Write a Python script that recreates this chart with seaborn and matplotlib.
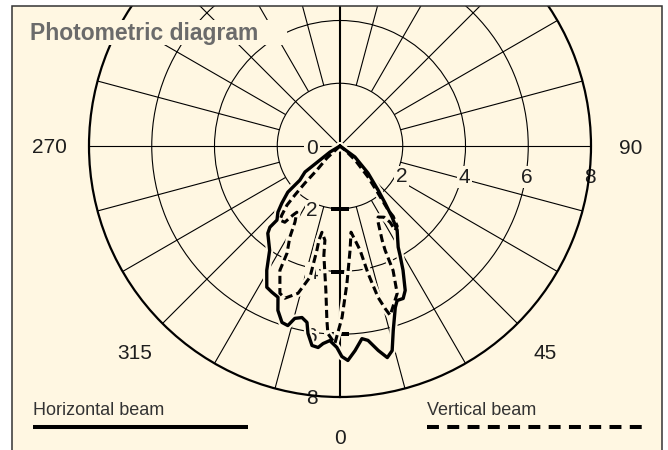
import numpy as np
import pandas as pd
import matplotlib
matplotlib.use("Agg")
import matplotlib.pyplot as plt
import seaborn as sns
from matplotlib.patches import Rectangle
from matplotlib.lines import Line2D
from matplotlib import transforms

# ---------------- data ----------------
# angles in degrees (0 = down, counter-clockwise), radii in chart units
horiz_theta = [-62, -59, -53.4, -49.6, -48.5, -45.5, -43.2, -40.4, -40.8, -39.6,
               -34, -30.5, -27.4, -25, -22.3, -20.7, -18.2, -16.2, -14.7, -12.5,
               -10.6, -9.7, -8, -6.2, -4.9, -3, -0.9, 0.5, 2.1, 4.2,
               6.5, 8.2, 10.6, 12.6, 14.3, 16.1, 18.9, 20.3, 22.5, 24.3,
               26.9, 28.8, 29.9, 34.2, 36.2, 38.3, 40.8, 46, 53.7, 60]
horiz_r = [0, 0.37, 1.39, 1.68, 2.22, 2.60, 2.89, 3.10, 3.42, 3.61,
           4.01, 4.60, 5.07, 5.14, 5.21, 5.60, 5.92, 5.96, 5.68, 5.60,
           5.72, 6.06, 6.42, 6.46, 6.32, 6.21, 6.42, 6.71, 6.84, 6.54,
           6.18, 6.26, 6.63, 6.91, 6.73, 6.12, 5.44, 5.25, 5.26, 5.05,
           4.44, 3.97, 3.72, 3.24, 2.81, 2.32, 1.86, 1.24, 0.59, 0]

vert_theta = [-55, -47.3, -43.8, -43.4, -42.6, -41.9, -40.1, -39.0, -35.9, -34.3,
              -33.1, -30.6, -28.8, -26.3, -25.8, -22.2, -19.9, -15.9, -12.9, -12.5,
              -12.6, -11.8, -9.1, -8.4, -5.6, -4.3, -3.7, -1.5, 0.7, 2.9,
              5.5, 7.3, 9.1, 10.9, 12.4, 14.1, 15.5, 16.5, 21.2, 23.1,
              23.4, 24.1, 26.6, 28.2, 31.8, 33.3, 33.2, 35.5, 37.1, 36.9,
              38.9, 42.1, 47, 51, 55]
vert_r = [0, 0.57, 1.06, 1.63, 2.13, 2.53, 2.88, 3.04, 3.00, 2.67,
          2.52, 2.82, 3.32, 3.81, 4.40, 5.07, 5.16, 4.88, 4.29, 3.40,
          3.08, 2.81, 3.04, 3.52, 4.62, 5.57, 5.99, 6.30, 5.46, 4.38,
          3.34, 2.77, 3.04, 3.38, 4.15, 4.97, 5.37, 5.63, 5.04, 4.31,
          3.62, 3.29, 2.71, 2.57, 2.67, 2.91, 3.21, 3.14, 2.81, 2.56,
          1.93, 1.33, 0.66, 0.2, 0]

r_ticks = [2, 4, 6]
r_labels_vertical = ["0", "2", "4", "6", "8"]
r_labels_right = ["2", "4", "6", "8"]
angle_labels = [270, 90, 0, 315, 45]
series_names = ["Horizontal beam", "Vertical beam"]
title = "Photometric diagram"

# ---------------- style ----------------
sns.set_theme(style="white")
plt.rcParams["font.family"] = ["Liberation Sans", "DejaVu Sans"]
plt.rcParams["lines.scale_dashes"] = False

CREAM = "#fff7e2"
INK = "#1e1e1e"

W, H = 668, 450
fig = plt.figure(figsize=(W / 100, H / 100), dpi=100)
fig.patch.set_facecolor("white")

# frame fill (below axes)
fig.add_artist(Rectangle((12.5 / W, -0.05), 649.5 / W, (H - 6) / H + 0.05,
                         transform=fig.transFigure, facecolor=CREAM,
                         edgecolor="none", zorder=-5))

cx, cy, R = 340, 146, 251
ax = fig.add_axes([(cx - R) / W, (H - cy - R) / H, 2 * R / W, 2 * R / H],
                  projection="polar")
ax.set_facecolor("none")
ax.set_theta_zero_location("S")
ax.set_theta_direction(1)

# grid: circles
ax.set_rticks(r_ticks)
ax.set_yticklabels([])
ax.set_xticks([])
ax.yaxis.grid(True, color="black", lw=0.8)
ax.xaxis.grid(False)
ax.spines["polar"].set_linewidth(1.6)
ax.spines["polar"].set_color("black")

# radial spokes
all15 = np.arange(0, 360, 15)
short = [a for a in all15 if a % 45 != 0]
long_ = [a for a in all15 if a % 45 == 0 and a % 180 != 0]
ax.vlines(np.deg2rad(short), 2, 8, color="black", lw=0.8, zorder=1.6)
ax.vlines(np.deg2rad(long_), 0, 8, color="black", lw=0.8, zorder=1.6)
ax.vlines(np.deg2rad([0, 180]), 0, 8, color="black", lw=1.5, zorder=1.6)
ax.plot(np.zeros(len(r_ticks)), r_ticks, ls="none", marker="_", ms=13,
        mew=1.6, color="black", zorder=1.7)

# radial value labels
lbl_kw = dict(fontsize=15, color=INK, ha="center", va="center_baseline",
              zorder=2.5,
              bbox=dict(boxstyle="square,pad=0.08", fc=CREAM, ec="none"))
left_off = ax.transData + transforms.ScaledTranslation(-28 / 100, 0, fig.dpi_scale_trans)
for lab in r_labels_vertical:
    ax.text(0, float(lab), lab, transform=left_off, **lbl_kw)
right_off = ax.transData + transforms.ScaledTranslation(-1 / 100, -29 / 100, fig.dpi_scale_trans)
for lab in r_labels_right:
    ax.text(np.pi / 2, float(lab), lab, transform=right_off, **lbl_kw)

# angle labels
for a in angle_labels:
    ax.text(np.deg2rad(a), 9.25, str(a), fontsize=15, color=INK,
            ha="center", va="center_baseline")

# curves (with halo that hides grid lines underneath)
ht = np.deg2rad(horiz_theta)
vt = np.deg2rad(vert_theta)
df_h = pd.DataFrame({"theta": ht, "r": horiz_r})
df_v = pd.DataFrame({"theta": vt, "r": vert_r})
for df in (df_h, df_v):
    sns.lineplot(data=df, x="theta", y="r", sort=False, estimator=None,
                 ax=ax, color=CREAM, lw=5.5, zorder=3)
sns.lineplot(data=df_h, x="theta", y="r", sort=False, estimator=None,
             ax=ax, color="black", lw=2.4, zorder=4)
sns.lineplot(data=df_v, x="theta", y="r", sort=False, estimator=None,
             ax=ax, color="black", lw=2.2, zorder=4.1)
ax.lines[-1].set_dashes([5.8, 3.0])
ax.lines[-1].set_dash_capstyle("butt")
ax.set_xlabel("")
ax.set_ylabel("")
ax.set_ylim(0, 8)

# title with background box
fig.add_artist(Rectangle((25 / W, 1 - 45 / H), 262 / W, 25 / H,
                         transform=fig.transFigure, facecolor=CREAM,
                         edgecolor="none", zorder=10))
fig.text(30 / W, 1 - 40 / H, title, fontsize=16.5, fontweight="bold",
         color="#6b6b6b", ha="left", va="baseline", zorder=11)

# legend
fig.text(33 / W, 1 - 415 / H, series_names[0], fontsize=13, color="#333333",
         ha="left", va="baseline", zorder=11)
fig.text(427 / W, 1 - 415 / H, series_names[1], fontsize=13, color="#333333",
         ha="left", va="baseline", zorder=11)
fig.add_artist(Line2D([33 / W, 248 / W], [1 - 427 / H] * 2, transform=fig.transFigure,
                      color="black", lw=2.9, solid_capstyle="butt", zorder=11))
leg_dash = Line2D([427 / W, 642 / W], [1 - 427 / H] * 2, transform=fig.transFigure,
                  color="black", lw=2.9, dash_capstyle="butt", zorder=11)
leg_dash.set_dashes([8.6, 6.0])
fig.add_artist(leg_dash)

# mask above frame + frame edge
fig.add_artist(Rectangle((0, 1 - 6 / H), 1, 6 / H + 0.01, transform=fig.transFigure,
                         facecolor="white", edgecolor="none", zorder=19))
fig.add_artist(Rectangle((12.5 / W, -0.05), 649.5 / W, (H - 6) / H + 0.05,
                         transform=fig.transFigure, facecolor="none",
                         edgecolor="#333333", lw=1.1, zorder=20))

fig.savefig("out.png", dpi=100, facecolor="white")
